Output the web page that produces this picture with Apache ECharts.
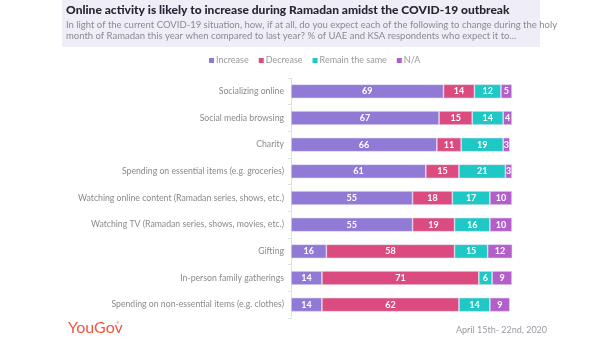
<!DOCTYPE html>
<html>
<head>
<meta charset="utf-8">
<script src="https://cdn.jsdelivr.net/npm/echarts@6/dist/echarts.min.js"></script>
<style>html,body{margin:0;padding:0;background:#fff;}#c{width:600px;height:338px;}</style>
</head>
<body>
<div id="c"></div>
<script>
const categories = [
  "Socializing online",
  "Social media browsing",
  "Charity",
  "Spending on essential items (e.g. groceries)",
  "Watching online content (Ramadan series, shows, etc.)",
  "Watching TV (Ramadan series, shows, movies, etc.)",
  "Gifting",
  "In-person family gatherings",
  "Spending on non-essential items (e.g. clothes)"
];
const increase = [69, 67, 66, 61, 55, 55, 16, 14, 14];
const decrease = [14, 15, 11, 15, 18, 19, 58, 71, 62];
const remainSame = [12, 14, 19, 21, 17, 16, 15, 6, 14];
const notApplicable = [5, 4, 3, 3, 10, 10, 12, 9, 9];
const seriesNames = ["Increase", "Decrease", "Remain the same", "N/A"];
const colors = ["#9179d6", "#dc4b7f", "#1ec8c4", "#b25fc9"];

const chart = echarts.init(document.getElementById('c'), null, {renderer: 'canvas'});
const font = 'Lato, "Open Sans", sans-serif';
const dataSets = [increase, decrease, remainSame, notApplicable];
const series = dataSets.map((d, i) => ({
  name: seriesNames[i],
  type: 'bar',
  stack: 'total',
  data: d,
  barWidth: 14,
  itemStyle: {color: colors[i], borderColor: '#e6e0f5', borderWidth: 0.6},
  label: {show: true, position: 'inside', color: '#fff', fontSize: 9, fontWeight: 'bold', fontFamily: font},
  emphasis: {disabled: true}
}));

chart.setOption({
  animation: false,
  graphic: [
    {type: 'rect', shape: {x: 62, y: 0, width: 478, height: 47}, style: {fill: '#efeef7'}, z: -1},
    {type: 'text', left: 66, top: 4, style: {text: 'Online activity is likely to increase during Ramadan amidst the COVID-19 outbreak', fill: '#262637', font: '900 12px ' + font}},
    {type: 'text', left: 66, top: 19, style: {text: 'In light of the current COVID-19 situation, how, if at all, do you expect each of the following to change during the holy\nmonth of Ramadan this year when compared to last year? % of UAE and KSA respondents who expect it to...', fill: '#8a8a94', font: '9.5px ' + font, lineHeight: 11}},
    {type: 'text', left: 68, top: 320, style: {text: 'YouGov', fill: '#f4543f', font: '16px ' + font}},
    {type: 'text', left: 116, top: 321, style: {text: '®', fill: '#f4543f', font: '4px ' + font}},
    {type: 'text', left: 456, top: 326, style: {text: 'April 15th- 22nd, 2020', fill: '#9a9aa4', font: '9px ' + font}}
  ],
  legend: {
    data: seriesNames,
    top: 51, left: 204,
    icon: 'rect', itemWidth: 5, itemHeight: 5, itemGap: 10,
    itemStyle: {borderWidth: 0},
    textStyle: {color: '#999', fontSize: 9, fontFamily: font, padding: [0, 0, 0, -3]}
  },
  grid: {left: 291, right: 88, top: 78, bottom: 20, containLabel: false},
  xAxis: {type: 'value', min: 0, max: 100, show: false},
  yAxis: {
    type: 'category', data: categories, inverse: true,
    axisLine: {show: true, lineStyle: {color: '#e0e0e0'}},
    axisTick: {show: true, length: 3, lineStyle: {color: '#e0e0e0'}},
    axisLabel: {color: '#8a8a8a', fontSize: 8.7, fontFamily: font, margin: 7}
  },
  series: series
});
</script>
</body>
</html>
